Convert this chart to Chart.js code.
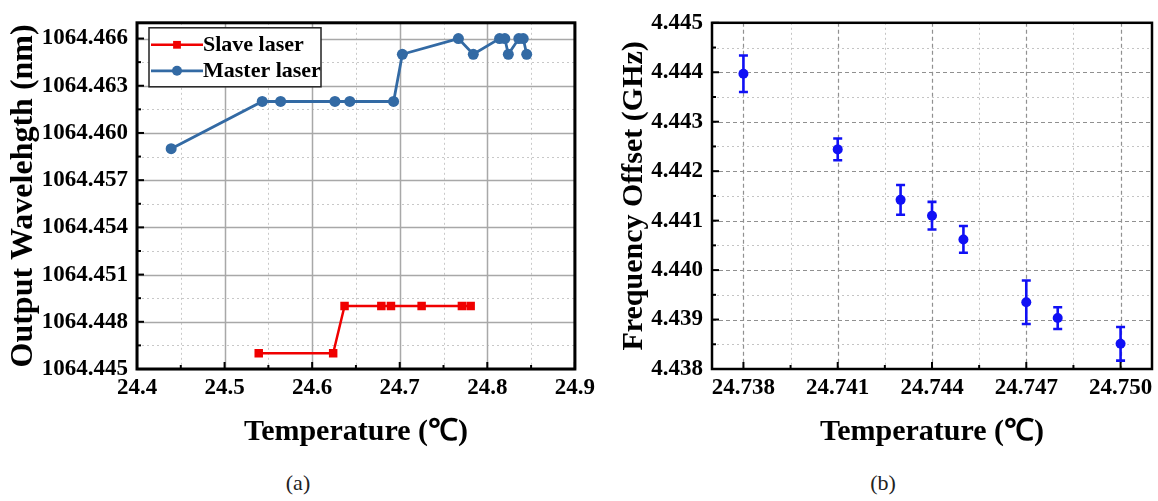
<!DOCTYPE html>
<html>
<head>
<meta charset="utf-8">
<script src="https://cdn.jsdelivr.net/npm/chart.js@4.4.1/dist/chart.umd.min.js"></script>
<style>
  body { margin: 0; background: #fff; width: 1158px; height: 501px; position: relative; overflow: hidden; }
  canvas { position: absolute; top: 0; }
  #chartA { left: 0; }
  #chartB { left: 600px; }
  .cap { position: absolute; top: 470px; font: 22px 'Liberation Serif', 'Times New Roman', serif; color: #222; transform: translateX(-50%); }
</style>
</head>
<body>
<canvas id="chartA" width="600" height="460"></canvas>
<canvas id="chartB" width="558" height="460"></canvas>
<div class="cap" style="left:298px">(a)</div>
<div class="cap" style="left:883px">(b)</div>
<script>
// Panel (a): output wavelength vs temperature
const slaveTemp = [24.539, 24.624, 24.637, 24.679, 24.690, 24.725, 24.771, 24.781];
const slaveWl = [1064.446, 1064.446, 1064.449, 1064.449, 1064.449, 1064.449, 1064.449, 1064.449];
const masterTemp = [24.439, 24.543, 24.564, 24.626, 24.643, 24.693, 24.703, 24.767, 24.784, 24.814, 24.820, 24.824, 24.836, 24.841, 24.845];
const masterWl = [1064.459, 1064.462, 1064.462, 1064.462, 1064.462, 1064.462, 1064.465, 1064.466, 1064.465, 1064.466, 1064.466, 1064.465, 1064.466, 1064.466, 1064.465];
const tempTicksA = [24.4, 24.5, 24.6, 24.7, 24.8, 24.9];
const wlTicks = [1064.445, 1064.448, 1064.451, 1064.454, 1064.457, 1064.460, 1064.463, 1064.466];

// Panel (b): frequency offset vs temperature, with error bars
const offsetTemp = [24.738, 24.741, 24.743, 24.744, 24.745, 24.747, 24.748, 24.750];
const offsetFreq = [4.44397, 4.44244, 4.44142, 4.44110, 4.44062, 4.43935, 4.43903, 4.43851];
const offsetErr = [0.00037, 0.00022, 0.00030, 0.00028, 0.00027, 0.00044, 0.00022, 0.00034];
const tempTicksB = [24.738, 24.741, 24.744, 24.747, 24.750];
const freqTicks = [4.438, 4.439, 4.440, 4.441, 4.442, 4.443, 4.444, 4.445];

const serif = "'Liberation Serif', 'Times New Roman', serif";
const tickFont = { family: serif, size: 23, weight: 'bold' };
const titleFont = { family: serif, size: 30, weight: 'bold' };

// minor positions halfway between major ticks, kept inside the axis range
function minorOf(scale) {
  const v = scale.ticks.map(t => t.value);
  const out = [];
  const step = v[1] - v[0];
  if (v[0] - step / 2 >= scale.min) out.push(v[0] - step / 2);
  for (let i = 0; i < v.length - 1; i++) out.push((v[i] + v[i + 1]) / 2);
  if (v[v.length - 1] + step / 2 <= scale.max) out.push(v[v.length - 1] + step / 2);
  return out;
}

// grid, inward tick marks and the black frame
const frameGrid = {
  id: 'frameGrid',
  beforeDatasetsDraw(chart, args, o) {
    const { ctx, chartArea: a, scales: { x, y } } = chart;
    ctx.save();
    ctx.lineWidth = 1;
    ctx.strokeStyle = o.minorColor;
    ctx.setLineDash(o.minorDash);
    minorOf(x).forEach(v => {
      const px = Math.round(x.getPixelForValue(v)) + 0.5;
      ctx.beginPath(); ctx.moveTo(px, a.top); ctx.lineTo(px, a.bottom); ctx.stroke();
    });
    minorOf(y).forEach(v => {
      const py = Math.round(y.getPixelForValue(v)) + 0.5;
      ctx.beginPath(); ctx.moveTo(a.left, py); ctx.lineTo(a.right, py); ctx.stroke();
    });
    ctx.lineWidth = o.majorWidth;
    ctx.strokeStyle = o.majorColor;
    ctx.setLineDash(o.majorDash);
    x.ticks.forEach(t => {
      const px = Math.round(x.getPixelForValue(t.value)) + 0.5;
      ctx.beginPath(); ctx.moveTo(px, a.top); ctx.lineTo(px, a.bottom); ctx.stroke();
    });
    y.ticks.forEach(t => {
      const py = Math.round(y.getPixelForValue(t.value)) + 0.5;
      ctx.beginPath(); ctx.moveTo(a.left, py); ctx.lineTo(a.right, py); ctx.stroke();
    });
    ctx.restore();
  },
  afterDatasetsDraw(chart, args, o) {
    const { ctx, chartArea: a, scales: { x, y } } = chart;
    ctx.save();
    ctx.strokeStyle = '#000';
    ctx.lineWidth = 2;
    ctx.setLineDash([]);
    const mark = (vals, len) => {
      vals.forEach(v => {
        const px = x.getPixelForValue(v);
        ctx.beginPath(); ctx.moveTo(px, a.bottom); ctx.lineTo(px, a.bottom - len); ctx.stroke();
      });
    };
    mark(x.ticks.map(t => t.value), 7);
    mark(minorOf(x), 4);
    const markY = (vals, len) => {
      vals.forEach(v => {
        const py = y.getPixelForValue(v);
        ctx.beginPath(); ctx.moveTo(a.left, py); ctx.lineTo(a.left + len, py); ctx.stroke();
      });
    };
    markY(y.ticks.map(t => t.value), 7);
    markY(minorOf(y), 4);
    ctx.lineWidth = o.frameWidth;
    ctx.strokeRect(a.left, a.top, a.right - a.left, a.bottom - a.top);
    ctx.restore();
  }
};

// vertical error bars drawn through the y scale
const errorBars = {
  id: 'errorBars',
  beforeDatasetsDraw(chart, args, o) {
    if (!o.errors) return;
    const { ctx, scales: { y } } = chart;
    const meta = chart.getDatasetMeta(0);
    ctx.save();
    ctx.strokeStyle = o.color;
    ctx.lineWidth = 2.6;
    meta.data.forEach((pt, i) => {
      const v = chart.data.datasets[0].data[i].y;
      const top = y.getPixelForValue(v + o.errors[i]);
      const bot = y.getPixelForValue(v - o.errors[i]);
      ctx.beginPath();
      ctx.moveTo(pt.x, top); ctx.lineTo(pt.x, bot);
      ctx.moveTo(pt.x - 4.5, top); ctx.lineTo(pt.x + 4.5, top);
      ctx.moveTo(pt.x - 4.5, bot); ctx.lineTo(pt.x + 4.5, bot);
      ctx.stroke();
    });
    ctx.restore();
  }
};

// boxed legend inside the plot, top left
const boxLegend = {
  id: 'boxLegend',
  afterDraw(chart, args, o) {
    if (!o.show) return;
    const { ctx, chartArea: a } = chart;
    const bx = a.left + 12, by = a.top + 5, bw = 172, bh = 59;
    ctx.save();
    ctx.fillStyle = '#fff';
    ctx.fillRect(bx, by, bw, bh);
    ctx.strokeStyle = '#222';
    ctx.lineWidth = 1.5;
    ctx.strokeRect(bx, by, bw, bh);
    chart.data.datasets.forEach((ds, i) => {
      const cy = by + 17 + i * 26;
      ctx.strokeStyle = ds.borderColor;
      ctx.lineWidth = ds.borderWidth;
      ctx.beginPath(); ctx.moveTo(bx + 2, cy); ctx.lineTo(bx + 54, cy); ctx.stroke();
      ctx.fillStyle = ds.backgroundColor;
      Chart.helpers.drawPoint(ctx, { pointStyle: ds.pointStyle, radius: ds.pointRadius - 0.5, borderWidth: 0 }, bx + 28, cy);
      ctx.fillStyle = '#000';
      ctx.font = `bold 22px ${serif}`;
      ctx.textBaseline = 'middle';
      ctx.fillText(ds.label, bx + 54, cy + 1);
    });
    ctx.restore();
  }
};

function axis(min, max, ticks, digits, title, opts) {
  return {
    type: 'linear',
    min: min,
    max: max,
    afterBuildTicks: s => { s.ticks = ticks.map(v => ({ value: v })); },
    afterFit: opts.fit,
    ticks: {
      font: tickFont, color: '#000', padding: opts.pad, autoSkip: false, maxRotation: 0,
      callback: v => Number(v).toFixed(digits)
    },
    grid: { display: false, drawTicks: false },
    border: { display: false },
    title: { display: true, text: title, font: opts.titleFont || titleFont, color: '#000', padding: opts.titlePad }
  };
}

new Chart(document.getElementById('chartA'), {
  type: 'line',
  data: {
    datasets: [
      {
        label: 'Slave laser',
        data: slaveTemp.map((t, i) => ({ x: t, y: slaveWl[i] })),
        borderColor: '#f00000',
        backgroundColor: '#f00000',
        borderWidth: 2.5,
        pointStyle: 'rect',
        pointRadius: 6,
        pointBorderWidth: 0,
        tension: 0
      },
      {
        label: 'Master laser',
        data: masterTemp.map((t, i) => ({ x: t, y: masterWl[i] })),
        borderColor: '#336aa4',
        backgroundColor: '#336aa4',
        borderWidth: 2.8,
        pointStyle: 'circle',
        pointRadius: 5.5,
        pointBorderWidth: 0,
        tension: 0
      }
    ]
  },
  options: {
    responsive: false,
    animation: false,
    devicePixelRatio: 1,
    layout: { padding: { top: 18, right: 25, left: 0, bottom: 0 } },
    scales: {
      x: axis(24.4, 24.9, tempTicksA, 1, 'Temperature (℃)',
        { pad: 5, titlePad: { top: 0, bottom: 10 }, fit: s => { s.height = 91; } }),
      y: axis(1064.445, 1064.467, wlTicks, 3, 'Output Wavelehgth (nm)',
        { pad: 9, titlePad: { top: 5, bottom: 0 }, fit: s => { s.width = 137; },
          titleFont: { family: serif, size: 32, weight: 'bold' } })
    },
    plugins: {
      legend: { display: false },
      tooltip: { enabled: false },
      frameGrid: { majorColor: '#a8a8a8', majorDash: [], majorWidth: 1.5, minorColor: '#c8c8c8', minorDash: [2, 3], frameWidth: 3 },
      boxLegend: { show: true }
    }
  },
  plugins: [frameGrid, boxLegend]
});

new Chart(document.getElementById('chartB'), {
  type: 'scatter',
  data: {
    datasets: [{
      label: 'Frequency Offset',
      data: offsetTemp.map((t, i) => ({ x: t, y: offsetFreq[i] })),
      backgroundColor: '#1010f5',
      borderColor: '#1010f5',
      pointRadius: 5,
      pointBorderWidth: 0
    }]
  },
  options: {
    responsive: false,
    animation: false,
    devicePixelRatio: 1,
    layout: { padding: { top: 15, right: 6, left: 0, bottom: 0 } },
    scales: {
      x: axis(24.737, 24.751, tempTicksB, 3, 'Temperature (℃)',
        { pad: 5, titlePad: { top: 0, bottom: 10 }, fit: s => { s.height = 91; } }),
      y: axis(4.438, 4.445, freqTicks, 3, 'Frequency Offset (GHz)',
        { pad: 9, titlePad: { top: 16, bottom: 0 }, fit: s => { s.width = 112; } })
    },
    plugins: {
      legend: { display: false },
      tooltip: { enabled: false },
      frameGrid: { majorColor: '#909090', majorDash: [4, 3], majorWidth: 1.2, minorColor: '#c4c4c4', minorDash: [2, 3], frameWidth: 2.5 },
      errorBars: { errors: offsetErr, color: '#1010f5' }
    }
  },
  plugins: [frameGrid, errorBars]
});
</script>
</body>
</html>
